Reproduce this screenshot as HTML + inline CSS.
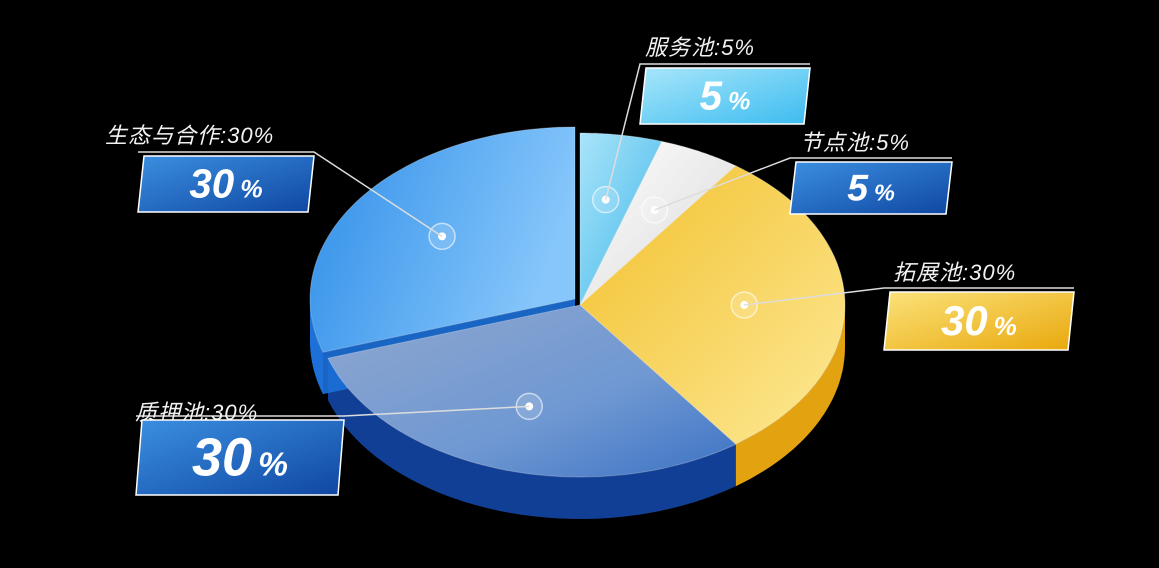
<!DOCTYPE html>
<html><head><meta charset="utf-8"><style>
html,body{margin:0;padding:0;background:#000;}
svg{display:block}
.lt{font-family:"Liberation Sans","Noto Sans CJK SC",sans-serif;font-style:italic;font-size:22px;fill:#f2f2f2;letter-spacing:1px}
.bt{font-family:"Liberation Sans","Noto Sans CJK SC",sans-serif;font-style:italic;font-weight:bold;fill:#fff}
</style></head><body>
<svg id="chart" width="1159" height="568" viewBox="0 0 1159 568">
<defs>
<linearGradient id="gEco" x1="0" y1="0" x2="1" y2="0.3"><stop offset="0" stop-color="#2f8ee8"/><stop offset="1" stop-color="#86c6fb"/></linearGradient>
<linearGradient id="gSvc" x1="0" y1="0" x2="1" y2="1"><stop offset="0" stop-color="#a9e4fa"/><stop offset="1" stop-color="#3fb6e8"/></linearGradient>
<linearGradient id="gNode" x1="0" y1="0" x2="1" y2="1"><stop offset="0" stop-color="#ffffff"/><stop offset="1" stop-color="#d8d8d8"/></linearGradient>
<linearGradient id="gExp" x1="0" y1="0" x2="1" y2="1"><stop offset="0" stop-color="#f2c02c"/><stop offset="1" stop-color="#fde996"/></linearGradient>
<linearGradient id="gPl" x1="0" y1="0" x2="1" y2="1"><stop offset="0" stop-color="#8fa7cf"/><stop offset="0.6" stop-color="#6f98d2"/><stop offset="1" stop-color="#3c72c4"/></linearGradient>
<linearGradient id="bxBlue" x1="0" y1="0" x2="1" y2="1"><stop offset="0" stop-color="#3b8fe0"/><stop offset="1" stop-color="#0f47a3"/></linearGradient>
<linearGradient id="bxCyan" x1="0" y1="0" x2="1" y2="1"><stop offset="0" stop-color="#a8e6fa"/><stop offset="1" stop-color="#3cbcf0"/></linearGradient>
<linearGradient id="bxYel" x1="0" y1="0" x2="1" y2="1"><stop offset="0" stop-color="#fbe27a"/><stop offset="1" stop-color="#e9a80c"/></linearGradient>
</defs>
<g id="sides"></g>
<g id="tops"></g>
<g id="labels"></g>
</svg>
<script>
const categories=["服务池","节点池","拓展池","质押池","生态与合作"];
const values=[5,5,30,30,30];
const topFills=["url(#gSvc)","url(#gNode)","url(#gExp)","url(#gPl)","url(#gEco)"];
const sideFills=["#1a8cc6","#bdbdbd","#e3a20f","#123f96","#1c70d8"];
const boxFills=["url(#bxCyan)","url(#bxBlue)","url(#bxYel)","url(#bxBlue)","url(#bxBlue)"];
const offsets=[[0,0],[0,0],[0,0],[0,0],[-5,-6]];
// label layout: text pos, box x,y,w,h
const labelPos=[[645,55,640,68,170,56],[800,150,790,162,162,52],[893,280,884,292,190,58],[135,420,136,420,208,75],[105,143,138,156,176,56]];
const cx=580,cy=305,rx=265,ry=172,depth=42;
const ns="http://www.w3.org/2000/svg";
const total=values.reduce((a,b)=>a+b,0);
function pt(a,ox,oy,dy){const r=a*Math.PI/180;return [cx+ox+rx*Math.sin(r),cy+oy-ry*Math.cos(r)+(dy||0)];}
function mk(tag,at,parent){const e=document.createElementNS(ns,tag);for(const k in at)e.setAttribute(k,at[k]);parent.appendChild(e);return e;}
const sides=document.getElementById('sides'),tops=document.getElementById('tops'),labels=document.getElementById('labels');
let acc=0;
values.forEach((v,i)=>{
 const a0=acc/total*360,a1=(acc+v)/total*360;acc+=v;
 const [ox,oy]=offsets[i];
 // outer side for front portion (90..270)
 const s0=Math.max(a0,90),s1=Math.min(a1,270);
 if(s1>s0){
  let d="";const n=40;
  for(let k=0;k<=n;k++){const p=pt(s0+(s1-s0)*k/n,ox,oy);d+=(k?"L":"M")+p[0].toFixed(1)+","+p[1].toFixed(1);}
  for(let k=n;k>=0;k--){const p=pt(s0+(s1-s0)*k/n,ox,oy,depth);d+="L"+p[0].toFixed(1)+","+p[1].toFixed(1);}
  const s=mk('path',{d:d+"Z",fill:sideFills[i]},sides);
  
  
 }
 // cut faces visible (left faces at angle edges)
 [a0,a1].forEach(a=>{
  if((a>180&&a<360&&a===a0)||(a>0&&a<180&&a===a1)){
   const p=pt(a,ox,oy);const c=[cx+ox,cy+oy];
   const f=mk('path',{d:`M${c[0]},${c[1]}L${p[0]},${p[1]}L${p[0]},${p[1]+depth}L${c[0]},${c[1]+depth}Z`,fill:sideFills[i],opacity:0.9},sides);
   
   
  }
 });
 let d=`M${cx+ox},${cy+oy}`;const n=60;
 for(let k=0;k<=n;k++){const p=pt(a0+(a1-a0)*k/n,ox,oy);d+="L"+p[0].toFixed(1)+","+p[1].toFixed(1);}
 const t=mk('path',{d:d+"Z",fill:topFills[i],stroke:"rgba(255,255,255,0.25)","stroke-width":1},tops);
 
 
 // marker
 const mid=(a0+a1)/2,fr=0.62;const r=mid*Math.PI/180;
 const mx=cx+ox+rx*fr*Math.sin(r),my=cy+oy-ry*fr*Math.cos(r);
 const ring=mk('circle',{cx:mx,cy:my,r:13,fill:"rgba(255,255,255,0.15)",stroke:"rgba(255,255,255,0.6)","stroke-width":1.5},labels);
 
 
 const dot=mk('circle',{cx:mx,cy:my,r:4,fill:"#fff"},labels);
 
 
 const [tx,ty,bx,by,bw,bh]=labelPos[i];
 const right=bx>cx;
 const lx=right?bx:bx+bw, ly=by-4;
 const ln=mk('polyline',{points:`${mx},${my} ${lx},${ly} ${right?bx+bw:bx},${ly}`,fill:"none",stroke:"#ddd","stroke-width":1.5},labels);
 
 
 const lt=mk('text',{x:tx,y:ty,class:'lt'},labels);lt.textContent=categories[i]+":"+values[i]+"%";
 
 
 const sk=6;
 const bx2=mk('path',{d:`M${bx+sk},${by}L${bx+bw},${by}L${bx+bw-sk},${by+bh}L${bx},${by+bh}Z`,fill:boxFills[i],stroke:"#fff","stroke-width":1.5},labels);
 
 
 const vt=mk('text',{x:bx+bw/2,y:by+bh*0.74,'text-anchor':'middle',class:'bt','font-size':bh*0.72},labels);
 vt.textContent=values[i];
 const sp=document.createElementNS(ns,'tspan');sp.setAttribute('font-size',bh*0.45);sp.setAttribute('dx','6');sp.textContent='%';vt.appendChild(sp);
 
 
});
</script>
</body></html>
